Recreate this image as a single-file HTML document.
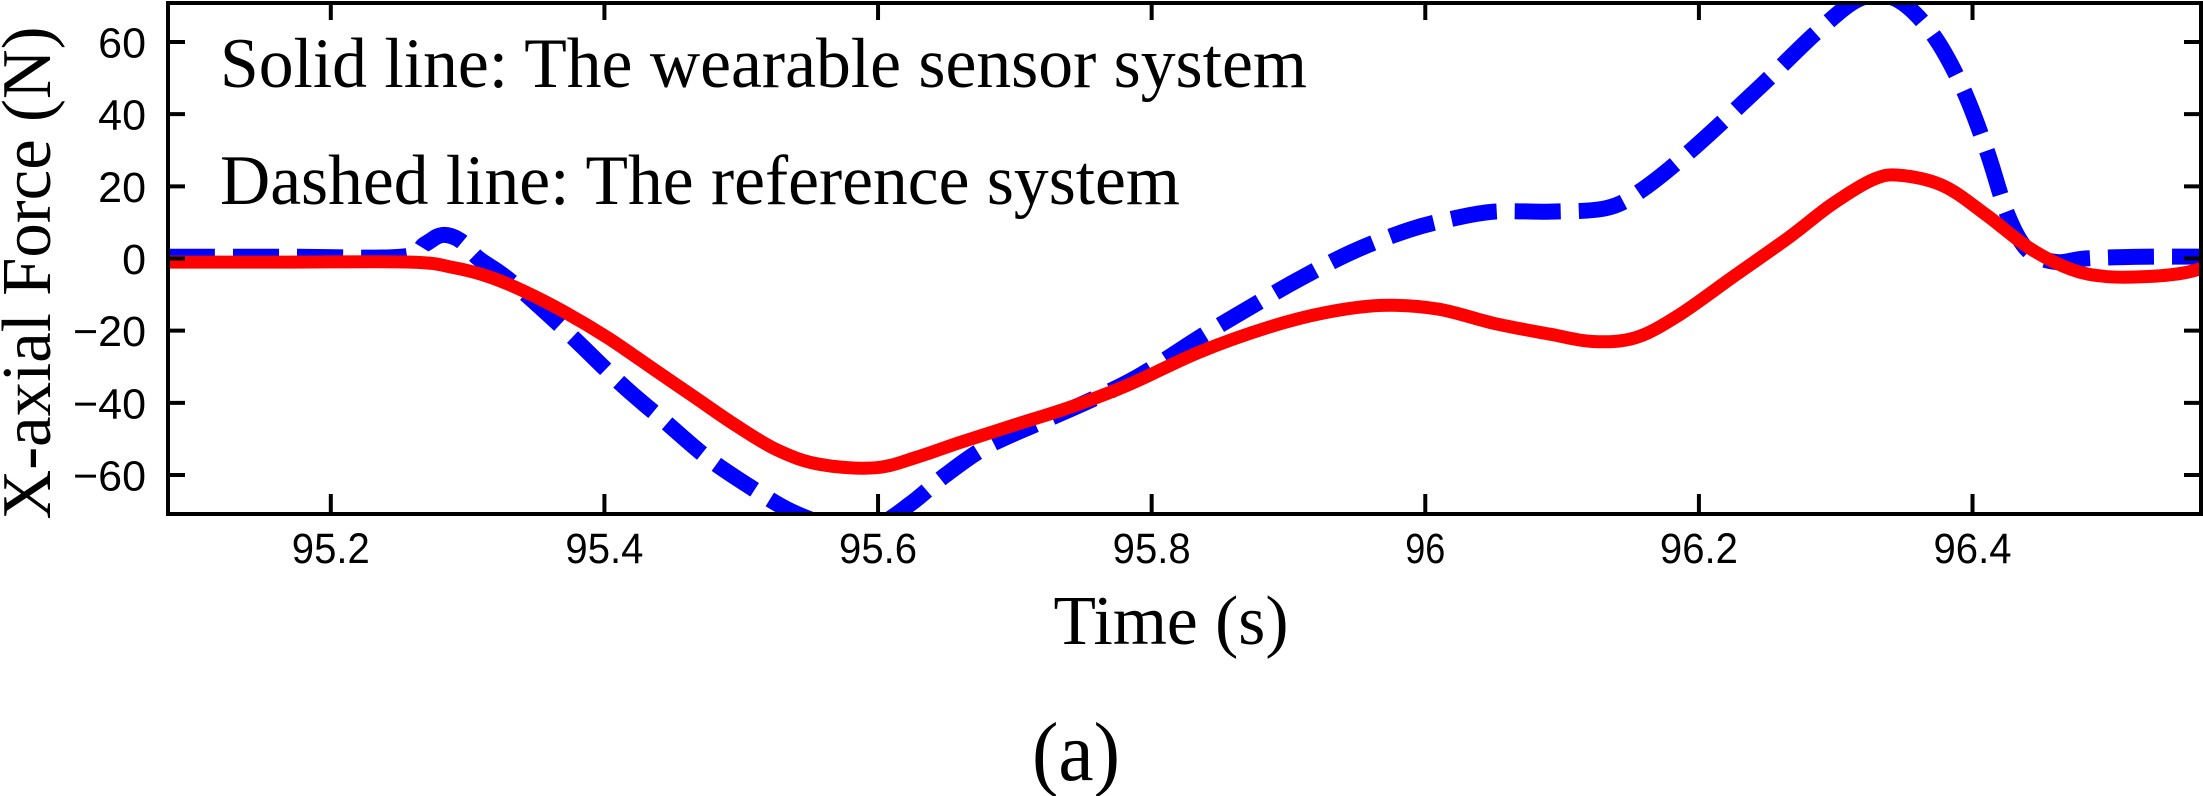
<!DOCTYPE html>
<html><head><meta charset="utf-8"><style>
html,body{margin:0;padding:0;background:#fff;}
svg{display:block;}
</style></head><body>
<svg id="s" width="2203" height="796" viewBox="0 0 2203 796" xmlns="http://www.w3.org/2000/svg">
<defs><clipPath id="c"><rect x="168" y="3" width="2033" height="511"/></clipPath></defs>
<g clip-path="url(#c)">
<path id="blue" fill="none" stroke="#0000ff" stroke-width="16" stroke-dasharray="46 18"/>
<path id="red" fill="none" stroke="#ff0000" stroke-width="13"/>
</g>
<g id="ax" stroke="#000" stroke-width="4" fill="none">
<rect x="168" y="3" width="2033" height="511"/>
</g>
<g id="ticks" stroke="#000" stroke-width="4"></g>
<g font-family="'Liberation Sans',sans-serif" font-size="43" fill="#000" id="lbl"></g>
<text x="220" y="87" font-family="'Liberation Serif',serif" font-size="71" textLength="1087" lengthAdjust="spacingAndGlyphs">Solid line: The wearable sensor system</text>
<text x="220" y="204" font-family="'Liberation Serif',serif" font-size="71" textLength="960" lengthAdjust="spacingAndGlyphs">Dashed line: The reference system</text>
<text x="1171" y="644" text-anchor="middle" font-family="'Liberation Serif',serif" font-size="70" textLength="235" lengthAdjust="spacingAndGlyphs">Time (s)</text>
<text x="1076" y="780" text-anchor="middle" font-family="'Liberation Serif',serif" font-size="84" textLength="88" lengthAdjust="spacingAndGlyphs">(a)</text>
<text transform="translate(50,273) rotate(-90)" text-anchor="middle" font-family="'Liberation Serif',serif" font-size="70" textLength="493" lengthAdjust="spacingAndGlyphs">X-axial Force (N)</text>
</svg>
<script>
var x0=168,x1=2201,t0=95.081,t1=96.567,yTop=3,yBot=514,v0=70.8,v1=-70.8;
function X(t){return x0+(t-t0)/(t1-t0)*(x1-x0);}
function Y(v){return yTop+(v0-v)/(v0-v1)*(yBot-yTop);}
function T(dx){return 95.2+(dx-233)*0.0010283;}
function path(pts){
 var p=pts.map(function(a){return [X(a[0]),Y(a[1])];});
 var d="M"+p[0][0]+","+p[0][1];
 for(var i=0;i<p.length-1;i++){
  var a=p[Math.max(i-1,0)],b=p[i],c=p[i+1],e=p[Math.min(i+2,p.length-1)];
  var c1x=b[0]+(c[0]-a[0])/6,c1y=b[1]+(c[1]-a[1])/6,c2x=c[0]-(e[0]-b[0])/6,c2y=c[1]-(e[1]-b[1])/6;
  d+=" C"+c1x+","+c1y+" "+c2x+","+c2y+" "+c[0]+","+c[1];
 }
 return d;
}
var blueD=[[118,0.5],[200,0.5],[283,0.5],[300,4],[312,6.5],[325,5],[338,0],[360,-6],[400,-20],[440,-35],[470,-45],[500,-55],[530,-63],[560,-70],[590,-74],[620,-74],[645,-68],[670,-60],[700,-52],[740,-45],[780,-38],[810,-32],[850,-22],[880,-15],[920,-6],[960,2],[1000,8],[1030,11],[1060,13],[1100,13],[1140,14],[1165,19],[1200,30],[1250,48],[1290,63],[1320,72],[1345,72],[1370,63],[1392,48],[1410,30],[1425,12],[1440,2],[1460,-1],[1480,0],[1520,0.5],[1570,0.5]];
var redD=[[118,-1],[200,-1],[290,-1],[320,-2.5],[345,-5],[370,-9],[400,-15],[430,-22],[460,-30],[490,-38],[520,-46],[550,-53],[580,-57],[620,-58],[650,-55],[680,-51],[720,-46],[760,-41],[800,-35],[850,-26],[900,-19],[940,-15],[980,-13],[1020,-14],[1060,-18],[1100,-21],[1130,-23],[1160,-22],[1190,-16],[1230,-5],[1270,6],[1300,15],[1330,22],[1350,23],[1380,20],[1410,12],[1440,3],[1470,-3],[1495,-5],[1525,-5],[1550,-4],[1570,-2]];
document.getElementById("blue").setAttribute("d",path(blueD.map(function(a){return [T(a[0]),a[1]];})));
document.getElementById("red").setAttribute("d",path(redD.map(function(a){return [T(a[0]),a[1]];})));
var tk="",lb="";
[95.2,95.4,95.6,95.8,96,96.2,96.4].forEach(function(t){
 var x=X(t);
 tk+='<line x1="'+x+'" y1="514" x2="'+x+'" y2="494"/><line x1="'+x+'" y1="3" x2="'+x+'" y2="20"/>';
 lb+='<text x="'+x+'" y="563" text-anchor="middle" textLength="'+(t==96?40:78)+'" lengthAdjust="spacingAndGlyphs">'+(t==96?"96":t.toFixed(1))+'</text>';
});
[60,40,20,0,-20,-40,-60].forEach(function(v){
 var y=Y(v);
 tk+='<line x1="168" y1="'+y+'" x2="185" y2="'+y+'"/><line x1="2201" y1="'+y+'" x2="2184" y2="'+y+'"/>';
 lb+='<text x="146" y="'+(y+15.5)+'" text-anchor="end">'+(v<0?"\u2212"+(-v):v)+'</text>';
});
document.getElementById("ticks").innerHTML=tk;
document.getElementById("lbl").innerHTML=lb;
</script>
</body></html>
